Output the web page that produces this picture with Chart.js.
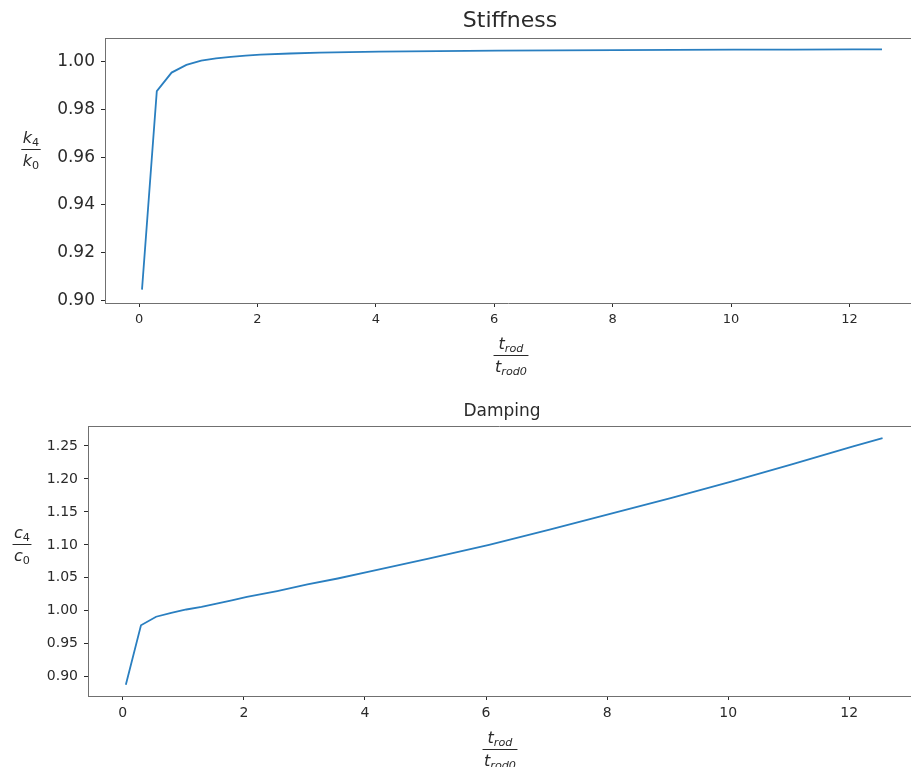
<!DOCTYPE html>
<html>
<head>
<meta charset="utf-8">
<script src="https://cdn.jsdelivr.net/npm/chart.js@4"></script>
<style>
  body { margin: 0; background: #fff; }
  #wrap { position: relative; width: 911px; height: 767px; overflow: hidden; }
  canvas { position: absolute; left: 0; }
</style>
</head>
<body>
<div id="wrap">
  <canvas id="stiff" width="911" height="385" style="top:0"></canvas>
  <canvas id="damp" width="911" height="382" style="top:385px"></canvas>
</div>
<script>
// t_rod / t_rod0
const tRatio = [0.05, 0.3, 0.55, 0.8, 1.05, 1.3, 1.55, 1.8, 2.05, 2.55, 3.05, 3.55, 4.05,
                5.05, 6.05, 7.05, 8.05, 9.05, 10.05, 11.05, 12.05, 12.55];
// k4 / k0
const stiffness = [0.9045, 0.9877, 0.9955, 0.9987, 1.0005, 1.0015, 1.0021, 1.0026, 1.0030, 1.0035,
                   1.0039, 1.0041, 1.0043, 1.0045, 1.0047, 1.0048, 1.0049, 1.0050, 1.0051, 1.0051,
                   1.0052, 1.0052];
// c4 / c0
const damping = [0.888, 0.978, 0.991, 0.997, 1.002, 1.006, 1.011, 1.016, 1.021, 1.030, 1.040,
                 1.049, 1.059, 1.079, 1.100, 1.123, 1.147, 1.171, 1.196, 1.222, 1.249, 1.262];

const FONT = '"DejaVu Sans", Verdana, sans-serif';
const TEXT = '#2a2a2a';
const AXIS = '#707070';
const LINE = '#2a7fc0';

// ---------- mathtext-ish helpers ----------
function partFont(p, size) {
    return (p.it ? 'italic ' : '') + (p.sub ? size * 0.7 : size) + 'px ' + FONT;
}
function partsWidth(ctx, parts, size) {
    let w = 0;
    parts.forEach(p => { ctx.font = partFont(p, size); w += ctx.measureText(p.t).width; });
    return w;
}
function drawParts(ctx, parts, cx, base, size) {
    let x = cx - partsWidth(ctx, parts, size) / 2;
    ctx.textAlign = 'left';
    ctx.textBaseline = 'alphabetic';
    parts.forEach(p => {
        ctx.font = partFont(p, size);
        ctx.fillText(p.t, x, base + (p.sub ? size * 0.2 : 0));
        x += ctx.measureText(p.t).width;
    });
}
function drawFrac(ctx, num, den, cx, cy, size) {
    const w = Math.max(partsWidth(ctx, num, size), partsWidth(ctx, den, size)) + 3;
    ctx.save();
    ctx.fillStyle = TEXT;
    ctx.strokeStyle = TEXT;
    ctx.lineWidth = 1;
    ctx.beginPath();
    ctx.moveTo(cx - w / 2, cy + 0.5);
    ctx.lineTo(cx + w / 2, cy + 0.5);
    ctx.stroke();
    drawParts(ctx, num, cx, cy - 6, size);
    drawParts(ctx, den, cx, cy + size + 1, size);
    ctx.restore();
}

const tNum = [{ t: 't', it: true }, { t: 'rod', it: true, sub: true }];
const tDen = [{ t: 't', it: true }, { t: 'rod0', it: true, sub: true }];

// 标题、上边框和分数轴标签
const decor = {
    id: 'decor',
    afterDraw(chart, args, o) {
        const { ctx, chartArea: a } = chart;
        ctx.save();
        ctx.strokeStyle = AXIS;
        ctx.lineWidth = 1;
        ctx.beginPath();
        ctx.moveTo(a.left, a.top + 0.5);
        ctx.lineTo(a.right, a.top + 0.5);
        ctx.stroke();
        ctx.fillStyle = TEXT;
        ctx.font = o.titleSize + 'px ' + FONT;
        ctx.textAlign = 'center';
        ctx.textBaseline = 'middle';
        ctx.fillText(o.title, o.titleX, o.titleY);
        ctx.restore();
        drawFrac(ctx, o.yNum, o.yDen, o.yx, o.yy, o.fracSize);
        drawFrac(ctx, tNum, tDen, o.xx, o.xy, o.fracSize);
    }
};

function makeChart(id, ys, cfg) {
    return new Chart(document.getElementById(id), {
        type: 'line',
        data: {
            datasets: [{
                data: tRatio.map((t, i) => ({ x: t, y: ys[i] })),
                borderColor: LINE,
                borderWidth: 1.8,
                pointRadius: 0,
                tension: 0,
                fill: false
            }]
        },
        options: {
            responsive: false,
            animation: false,
            events: [],
            layout: { padding: { top: cfg.padTop, left: 0, right: 0, bottom: 0 } },
            plugins: { legend: { display: false }, tooltip: { enabled: false }, decor: cfg.decor },
            scales: {
                x: {
                    type: 'linear',
                    min: -0.575,
                    max: cfg.xMax,
                    afterFit: s => { s.height = cfg.xHeight; },
                    border: { color: AXIS, width: 1 },
                    grid: { drawOnChartArea: false, tickLength: 4, tickColor: TEXT },
                    ticks: {
                        stepSize: 2,
                        includeBounds: false,
                        padding: 5,
                        color: TEXT,
                        font: { family: FONT, size: cfg.xTickSize },
                        maxRotation: 0
                    }
                },
                y: {
                    min: cfg.yMin,
                    max: cfg.yMax,
                    afterFit: s => { s.width = cfg.yWidth; },
                    border: { color: AXIS, width: 1 },
                    grid: { drawOnChartArea: false, tickLength: 4, tickColor: TEXT },
                    ticks: {
                        stepSize: cfg.yStep,
                        includeBounds: false,
                        padding: 6,
                        color: TEXT,
                        font: { family: FONT, size: cfg.yTickSize },
                        callback: v => v.toFixed(2)
                    }
                }
            }
        },
        plugins: [decor]
    });
}

makeChart('stiff', stiffness, {
    padTop: 38, xHeight: 82, yWidth: 105, xMax: 13.04,
    yMin: 0.8989, yMax: 1.0100, yStep: 0.02, xTickSize: 13, yTickSize: 17,
    decor: {
        title: 'Stiffness', titleSize: 22, titleX: 510, titleY: 21,
        yNum: [{ t: 'k', it: true }, { t: '4', sub: true }],
        yDen: [{ t: 'k', it: true }, { t: '0', sub: true }],
        yx: 31, yy: 149, xx: 511, xy: 355, fracSize: 16
    }
});

makeChart('damp', damping, {
    padTop: 41, xHeight: 71, yWidth: 88, xMax: 13.02,
    yMin: 0.8708, yMax: 1.2803, yStep: 0.05, xTickSize: 14, yTickSize: 14,
    decor: {
        title: 'Damping', titleSize: 17, titleX: 502, titleY: 27,
        yNum: [{ t: 'c', it: true }, { t: '4', sub: true }],
        yDen: [{ t: 'c', it: true }, { t: '0', sub: true }],
        yx: 22, yy: 159, xx: 500, xy: 364, fracSize: 16
    }
});
</script>
</body>
</html>
